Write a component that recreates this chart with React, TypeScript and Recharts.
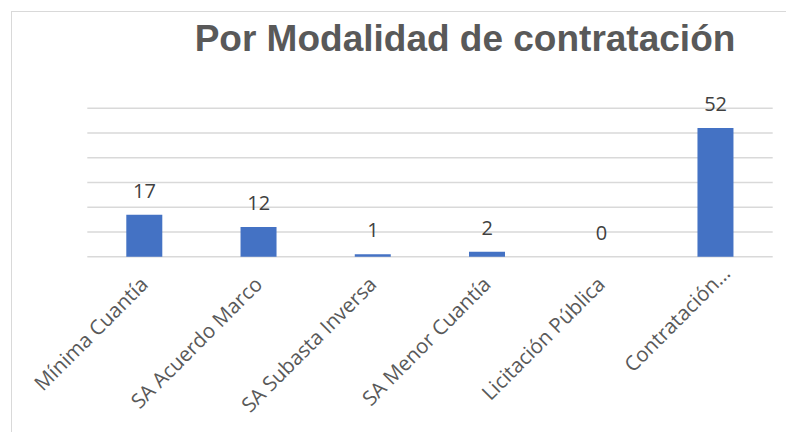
import React from 'react';
import { ComposedChart, Bar, Line, XAxis, YAxis, CartesianGrid, LabelList } from 'recharts';

const categories = [
  'Mínima Cuantía',
  'SA Acuerdo Marco',
  'SA Subasta Inversa',
  'SA Menor Cuantía',
  'Licitación Pública',
  'Contratación…',
];
const values = [17, 12, 1, 2, 0, 52];
const yTicks = [0, 10, 20, 30, 40, 50, 60];
const title = 'Por Modalidad de contratación';

const data = categories.map((name, i) => ({ name, value: values[i] }));

const AngledTick = (props: any) => {
  const { x, y, payload } = props;
  const truncated = String(payload.value).endsWith('…');
  const shift = truncated ? 11 : 0;
  return (
    <g transform={`translate(${x + 5 + shift},${y + 29 - shift})`}>
      <text
        x={0}
        y={0}
        textAnchor="end"
        transform="rotate(-45)"
        fill="#595959"
        fontSize={20.5}
        fontFamily="'Open Sans', sans-serif"
      >
        {payload.value}
      </text>
    </g>
  );
};

export default function App() {
  return (
    <div
      style={{
        position: 'absolute',
        left: 0,
        top: 0,
        width: 786,
        height: 432,
        overflow: 'hidden',
        background: '#ffffff',
      }}
    >
      <div
        style={{
          position: 'absolute',
          left: 11,
          top: 11,
          width: 900,
          height: 600,
          border: '1.5px solid #d9d9d9',
        }}
      />
      <svg style={{ position: 'absolute', left: 0, top: 0 }} width={786} height={70}>
        <text
          x={465}
          y={51}
          textAnchor="middle"
          fill="#595959"
          fontSize={37}
          fontWeight="bold"
          fontFamily="'Liberation Sans', Arial, sans-serif"
        >
          {title}
        </text>
      </svg>
      <div style={{ position: 'absolute', left: 0, top: 0 }}>
        <ComposedChart
          width={786}
          height={432}
          data={data}
          margin={{ top: 108.3, right: 13.3, left: 87.3, bottom: 0 }}
          barCategoryGap={0}
        >
          <CartesianGrid vertical={false} stroke="#d9d9d9" strokeWidth={1.5} />
          <YAxis hide width={0} domain={[0, 60]} ticks={yTicks} />
          <XAxis
            dataKey="name"
            axisLine={false}
            tickLine={false}
            tickSize={0}
            tickMargin={0}
            height={175.3}
            interval={0}
            tick={<AngledTick />}
          />
          <Bar dataKey="value" fill="#4472c4" barSize={36} isAnimationActive={false} />
          <Line
            dataKey="value"
            stroke="none"
            dot={false}
            activeDot={false}
            legendType="none"
            isAnimationActive={false}
          >
            <LabelList
              dataKey="value"
              position="top"
              offset={17}
              fill="#404040"
              fontSize={20}
              fontFamily="'Open Sans', sans-serif"
            />
          </Line>
        </ComposedChart>
      </div>
    </div>
  );
}
